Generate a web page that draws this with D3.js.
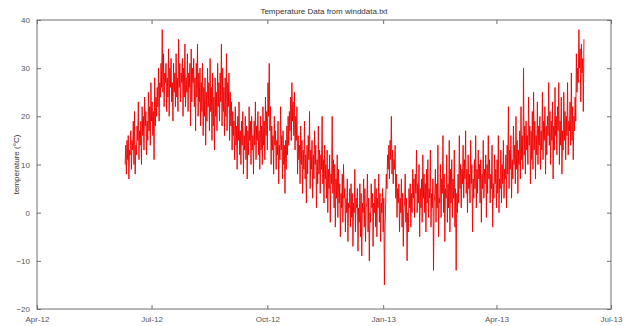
<!DOCTYPE html>
<html>
<head>
<meta charset="utf-8">
<script src="https://cdn.jsdelivr.net/npm/d3@7"></script>
<style>
  body { margin: 0; background: #fff; }
  svg { display: block; font-family: "Liberation Sans", Arial, sans-serif; }
</style>
</head>
<body>
<div id="chart"></div>
<script>
// readings every 12 hours starting 10 Jun 2012
const startDate = new Date(2012, 5, 10);
const stepHours = 12;
const temps = [
  10, 14, 8, 15, 11, 16, 7, 13, 12, 17,
  9, 15, 13, 19, 10, 21, 8, 14, 12, 18,
  15, 23, 11, 17, 14, 19, 10, 22, 16, 20,
  13, 24, 18, 21, 12, 19, 15, 25, 17, 22,
  14, 27, 19, 23, 16, 21, 11, 28, 18, 24,
  20, 26, 22, 30, 19, 27, 24, 31, 26, 38,
  25, 33, 22, 29, 27, 31, 21, 28, 24, 34,
  20, 30, 26, 32, 23, 27, 19, 31, 25, 29,
  22, 33, 24, 28, 21, 36, 26, 31, 23, 29,
  27, 32, 20, 30, 24, 35, 22, 28, 25, 33,
  21, 29, 26, 31, 18, 34, 23, 30, 27, 32,
  22, 28, 17, 31, 24, 35, 20, 29, 23, 30,
  18, 27, 21, 31, 16, 26, 20, 28, 14, 25,
  19, 30, 22, 27, 17, 32, 21, 26, 15, 29,
  18, 24, 13, 28, 20, 25, 17, 31, 22, 27,
  19, 29, 23, 35, 18, 30, 21, 26, 16, 28,
  20, 33, 17, 27, 22, 29, 15, 25, 18, 23,
  13, 21, 16, 19, 11, 22, 14, 18, 9, 20,
  15, 23, 12, 17, 10, 19, 14, 21, 8, 16,
  13, 20, 11, 18, 7, 17, 12, 22, 15, 19,
  10, 20, 13, 16, 8, 19, 14, 23, 11, 18,
  15, 21, 12, 17, 9, 20, 13, 18, 10, 22,
  14, 19, 11, 24, 16, 21, 13, 27, 20, 31,
  17, 22, 10, 18, 13, 16, 8, 20, 14, 17,
  9, 15, 12, 19, 6, 14, 11, 22, 13, 16,
  7, 17, 10, 14, 4, 15, 9, 18, 12, 20,
  14, 21, 17, 24, 15, 27, 19, 23, 16, 25,
  13, 20, 15, 22, 8, 16, 11, 14, 6, 18,
  10, 15, 4, 13, 9, 19, 7, 12, 2, 14,
  8, 16, 11, 21, 5, 13, 9, 15, 3, 12,
  7, 17, 10, 14, 1, 11, 6, 18, 8, 13,
  4, 12, 9, 20, 6, 11, 2, 14, 7, 10,
  3, 13, 0, 9, 5, 12, -2, 8, 6, 20,
  4, 11, 1, 10, -3, 7, 3, 12, -1, 9,
  2, 6, -5, 4, 1, 8, -2, 10, 3, 5,
  -4, 3, 0, 7, -6, 2, 1, 5, -3, 6,
  -1, 4, -7, 2, 0, 9, -4, 3, 1, 5,
  -8, 1, -2, 6, -5, 4, -9, 2, 0, 7,
  -3, 5, -6, 1, 2, 8, -4, 3, -10, 0,
  -2, 6, 1, 4, -7, 2, 0, 7, -3, 5,
  -5, 3, 1, 8, -2, 4, -6, 2, 0, 5,
  -4, 3, -15, -3, 2, 8, 5, 12, 9, 14,
  7, 15, 11, 20, 8, 13, 6, 11, 9, 14,
  3, 8, -1, 5, 2, 6, -4, 3, 0, 7,
  -3, 4, -7, 1, 2, 8, -2, 3, -10, 0,
  -4, 5, 1, 6, -3, 4, 0, 9, 3, 7,
  -1, 8, 4, 13, 0, 6, 2, 10, -5, 5,
  1, 7, -2, 12, 3, 8, 0, 6, -4, 9,
  2, 11, -1, 5, 3, 13, -3, 4, 1, 7,
  -12, 2, 4, 9, -2, 6, 1, 14, -5, 3,
  2, 10, -1, 7, 4, 16, 0, 8, -6, 5,
  3, 12, -2, 6, 1, 15, -4, 9, 2, 11,
  -1, 7, 3, 13, -3, 5, -12, 4, 0, 8,
  2, 16, 5, 10, 1, 9, 6, 14, 3, 11,
  7, 17, 4, 9, 0, 12, 5, 8, 2, 15,
  6, 10, -4, 7, 3, 11, 5, 16, 1, 9,
  4, 13, 7, 10, 2, 11, -2, 8, 5, 15,
  3, 9, 6, 12, -1, 10, 4, 16, 7, 11,
  2, 8, 5, 14, -3, 6, 3, 12, 6, 9,
  1, 11, 4, 16, 0, 7, 5, 13, 2, 10,
  6, 15, 3, 9, 7, 12, 1, 14, 8, 22,
  5, 13, 9, 16, 3, 11, 7, 18, 10, 14,
  6, 20, 9, 15, 4, 13, 10, 17, 7, 22,
  11, 16, 9, 30, 12, 18, 8, 19, 13, 16,
  10, 24, 14, 18, 6, 17, 11, 21, 9, 25,
  13, 19, 7, 16, 12, 23, 10, 18, 14, 20,
  9, 17, 13, 25, 11, 19, 15, 22, 8, 18,
  12, 20, 16, 27, 14, 21, 10, 19, 15, 23,
  7, 18, 13, 26, 16, 20, 12, 22, 17, 27,
  10, 19, 14, 24, 8, 17, 13, 25, 15, 21,
  11, 20, 16, 27, 12, 19, 17, 23, 14, 29,
  15, 22, 11, 20, 17, 24, 19, 33, 25, 30,
  27, 38, 30, 34, 23, 35, 29, 32, 21, 36
];
const xTickDates = [
  new Date(2012, 3, 1), new Date(2012, 6, 1), new Date(2012, 9, 1),
  new Date(2013, 0, 1), new Date(2013, 3, 1), new Date(2013, 6, 1)
];
const yTicks = [-20, -10, 0, 10, 20, 30, 40];

const width = 626, height = 326;
const margin = { top: 20, right: 15, bottom: 17, left: 37 };
const w = width - margin.left - margin.right;
const h = height - margin.top - margin.bottom;
const axisColor = '#6e6e6e';
const tickLen = 4;

const svg = d3.select('#chart').append('svg')
  .attr('width', width)
  .attr('height', height);

const g = svg.append('g')
  .attr('transform', `translate(${margin.left},${margin.top})`);

const x = d3.scaleTime()
  .domain([xTickDates[0], xTickDates[xTickDates.length - 1]])
  .range([0, w]);

const y = d3.scaleLinear()
  .domain([-20, 40])
  .range([h, 0]);

// temperature line
const line = d3.line()
  .x((d, i) => x(d3.timeHour.offset(startDate, i * stepHours)))
  .y(d => y(d));

g.append('path')
  .datum(temps)
  .attr('fill', 'none')
  .attr('stroke', '#ee0000')
  .attr('stroke-width', 0.9)
  .attr('d', line);

// axes, matlab style: box with inward ticks on all sides
const fmt = d3.timeFormat('%b-%y');

const styleAxis = sel => {
  sel.select('.domain').remove();
  sel.selectAll('line').attr('stroke', axisColor);
  sel.selectAll('text').attr('fill', '#555').style('font-size', '8px');
};

g.append('g')
  .attr('transform', `translate(0,${h})`)
  .call(d3.axisBottom(x).tickValues(xTickDates).tickFormat(fmt).tickSizeInner(-tickLen).tickSizeOuter(0).tickPadding(7))
  .call(styleAxis);

g.append('g')
  .call(d3.axisTop(x).tickValues(xTickDates).tickFormat('').tickSizeInner(-tickLen).tickSizeOuter(0))
  .call(styleAxis);

g.append('g')
  .call(d3.axisLeft(y).tickValues(yTicks).tickSizeInner(-tickLen).tickSizeOuter(0).tickPadding(7))
  .call(styleAxis);

g.append('g')
  .attr('transform', `translate(${w},0)`)
  .call(d3.axisRight(y).tickValues(yTicks).tickFormat('').tickSizeInner(-tickLen).tickSizeOuter(0))
  .call(styleAxis);

g.append('rect')
  .attr('width', w)
  .attr('height', h)
  .attr('fill', 'none')
  .attr('stroke', axisColor)
  .attr('stroke-width', 1);

// title and y label
svg.append('text')
  .attr('x', margin.left + w / 2)
  .attr('y', 14)
  .attr('text-anchor', 'middle')
  .attr('fill', '#333')
  .style('font-size', '8px')
  .text('Temperature Data from winddata.txt');

svg.append('text')
  .attr('transform', `translate(19,${margin.top + h / 2}) rotate(-90)`)
  .attr('text-anchor', 'middle')
  .attr('fill', '#333')
  .style('font-size', '8px')
  .text('temperature (°C)');
</script>
</body>
</html>
